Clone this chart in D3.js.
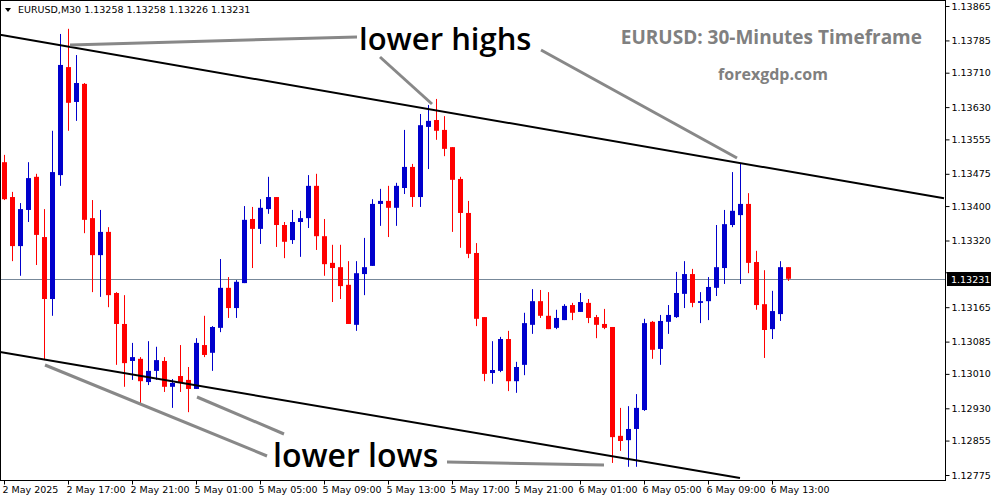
<!DOCTYPE html>
<html>
<head>
<meta charset="utf-8">
<script src="https://cdn.jsdelivr.net/npm/d3@7"></script>
<style>
  body { margin: 0; background: #fff; }
  svg { display: block; font-family: "DejaVu Sans", sans-serif; }
</style>
</head>
<body>
<div id="chart"></div>
<script>
// EURUSD M30 candles, [open, high, low, close]
const candles = [
  [1.13502, 1.13519, 1.13414, 1.13416], [1.13421, 1.13433, 1.13272, 1.13307],
  [1.13307, 1.13407, 1.13238, 1.13393], [1.13391, 1.13502, 1.13363, 1.13465],
  [1.13468, 1.13475, 1.13263, 1.13333], [1.13328, 1.13393, 1.13042, 1.13184],
  [1.13184, 1.13575, 1.13145, 1.13479], [1.13472, 1.13800, 1.13447, 1.13728],
  [1.13723, 1.13812, 1.13575, 1.13640], [1.13642, 1.13751, 1.13598, 1.13686],
  [1.13684, 1.13686, 1.13337, 1.13368], [1.13372, 1.13414, 1.13200, 1.13286],
  [1.13286, 1.13391, 1.13189, 1.13340], [1.13340, 1.13351, 1.13165, 1.13193],
  [1.13198, 1.13200, 1.13031, 1.13126], [1.13126, 1.13193, 1.12980, 1.13035],
  [1.13040, 1.13082, 1.12996, 1.13049], [1.13045, 1.13049, 1.12942, 1.12993],
  [1.12991, 1.13086, 1.12984, 1.13017], [1.13017, 1.13073, 1.12996, 1.13042],
  [1.13040, 1.13049, 1.12968, 1.12980], [1.12980, 1.12998, 1.12931, 1.12989],
  [1.13005, 1.13077, 1.12968, 1.12991], [1.12996, 1.13026, 1.12921, 1.12975],
  [1.12975, 1.13093, 1.12975, 1.13082], [1.13077, 1.13145, 1.13049, 1.13054],
  [1.13059, 1.13121, 1.13017, 1.13119], [1.13117, 1.13277, 1.13107, 1.13210],
  [1.13210, 1.13235, 1.13140, 1.13163], [1.13163, 1.13228, 1.13140, 1.13224],
  [1.13221, 1.13400, 1.13221, 1.13368], [1.13370, 1.13398, 1.13256, 1.13347],
  [1.13347, 1.13416, 1.13312, 1.13396], [1.13393, 1.13468, 1.13382, 1.13421],
  [1.13421, 1.13421, 1.13305, 1.13356], [1.13356, 1.13363, 1.13279, 1.13317],
  [1.13321, 1.13391, 1.13312, 1.13363], [1.13363, 1.13389, 1.13282, 1.13372],
  [1.13372, 1.13472, 1.13349, 1.13447], [1.13447, 1.13475, 1.13298, 1.13330],
  [1.13330, 1.13370, 1.13238, 1.13265], [1.13268, 1.13310, 1.13177, 1.13256],
  [1.13258, 1.13310, 1.13184, 1.13214], [1.13217, 1.13272, 1.13126, 1.13126],
  [1.13124, 1.13272, 1.13110, 1.13244], [1.13242, 1.13326, 1.13193, 1.13258],
  [1.13261, 1.13416, 1.13261, 1.13405], [1.13405, 1.13440, 1.13354, 1.13412],
  [1.13412, 1.13447, 1.13328, 1.13396], [1.13396, 1.13454, 1.13354, 1.13447],
  [1.13442, 1.13577, 1.13428, 1.13491], [1.13491, 1.13498, 1.13398, 1.13421],
  [1.13421, 1.13614, 1.13398, 1.13588], [1.13584, 1.13635, 1.13486, 1.13598],
  [1.13600, 1.13649, 1.13554, 1.13575], [1.13577, 1.13609, 1.13516, 1.13533],
  [1.13537, 1.13537, 1.13340, 1.13461], [1.13463, 1.13468, 1.13303, 1.13384],
  [1.13384, 1.13412, 1.13279, 1.13289], [1.13291, 1.13314, 1.13121, 1.13138],
  [1.13142, 1.13142, 1.12993, 1.13010], [1.13012, 1.13086, 1.12987, 1.13019],
  [1.13017, 1.13096, 1.13014, 1.13091], [1.13091, 1.13110, 1.12970, 1.12993],
  [1.12993, 1.13038, 1.12966, 1.13026], [1.13031, 1.13152, 1.13007, 1.13128],
  [1.13124, 1.13207, 1.13103, 1.13179], [1.13179, 1.13205, 1.13140, 1.13145],
  [1.13145, 1.13200, 1.13114, 1.13114], [1.13117, 1.13159, 1.13114, 1.13140],
  [1.13135, 1.13172, 1.13135, 1.13168], [1.13170, 1.13175, 1.13135, 1.13152],
  [1.13154, 1.13198, 1.13154, 1.13177], [1.13175, 1.13184, 1.13128, 1.13140],
  [1.13142, 1.13147, 1.13093, 1.13124], [1.13126, 1.13161, 1.13114, 1.13117],
  [1.13119, 1.13119, 1.12803, 1.12863], [1.12866, 1.12931, 1.12831, 1.12854],
  [1.12856, 1.12935, 1.12794, 1.12882], [1.12882, 1.12963, 1.12794, 1.12931],
  [1.12926, 1.13138, 1.12924, 1.13128], [1.13131, 1.13133, 1.13045, 1.13066],
  [1.13068, 1.13147, 1.13031, 1.13133], [1.13131, 1.13170, 1.13103, 1.13147],
  [1.13142, 1.13247, 1.13140, 1.13198], [1.13196, 1.13272, 1.13163, 1.13242],
  [1.13242, 1.13254, 1.13165, 1.13175], [1.13175, 1.13200, 1.13128, 1.13179],
  [1.13179, 1.13235, 1.13135, 1.13212], [1.13210, 1.13356, 1.13191, 1.13258],
  [1.13256, 1.13391, 1.13219, 1.13358], [1.13356, 1.13479, 1.13351, 1.13389],
  [1.13379, 1.13498, 1.13219, 1.13405], [1.13405, 1.13430, 1.13244, 1.13268],
  [1.13270, 1.13296, 1.13159, 1.13170], [1.13172, 1.13251, 1.13047, 1.13112],
  [1.13114, 1.13203, 1.13091, 1.13156], [1.13149, 1.13272, 1.13133, 1.13258],
  [1.13258, 1.13258, 1.13226, 1.13231]
];
// 1.13245 sits under the last-price tag, so only its tick mark is drawn
const priceTicks = [1.12775, 1.12855, 1.12930, 1.13010, 1.13085, 1.13165,
  1.13320, 1.13400, 1.13475, 1.13555, 1.13630, 1.13710, 1.13785, 1.13865];
const hiddenTick = 1.13245;
const timeLabels = ["2 May 2025", "2 May 17:00", "2 May 21:00", "5 May 01:00", "5 May 05:00",
  "5 May 09:00", "5 May 13:00", "5 May 17:00", "5 May 21:00", "6 May 01:00",
  "6 May 05:00", "6 May 09:00", "6 May 13:00"];
const timeLabelIndex = [0, 8, 16, 24, 32, 40, 48, 56, 64, 72, 80, 88, 96];
const lastPrice = 1.13231;
// channel lines as [index, price] pairs
const upperChannel = [[-0.5, 1.13798], [117.5, 1.13418]];
const lowerChannel = [[-0.5, 1.13061], [92, 1.12768]];

const width = 991, height = 501;
const plotRight = 945, plotBottom = 480;

const svg = d3.select("#chart").append("svg")
  .attr("width", width).attr("height", height);

const x = d3.scaleLinear().domain([0, 98]).range([4, 788]);
const y = d3.scaleLinear().domain([1.12775, 1.13865]).range([475, 6]);

// frame
svg.append("rect").attr("x", 0.5).attr("y", 0.5)
  .attr("width", plotRight).attr("height", plotBottom)
  .attr("fill", "none").attr("stroke", "#000");

// right price axis
const yAxis = svg.append("g")
  .attr("transform", `translate(${plotRight + 0.5},0)`)
  .call(d3.axisRight(y).tickValues(priceTicks).tickFormat(d3.format(".5f"))
    .tickSize(4).tickSizeOuter(0));
yAxis.select(".domain").remove();
yAxis.selectAll("text").attr("font-size", 9.5).attr("font-family", "DejaVu Sans").attr("x", 6).attr("fill", "#000");
svg.append("line")
  .attr("x1", plotRight).attr("x2", plotRight + 4)
  .attr("y1", y(hiddenTick)).attr("y2", y(hiddenTick)).attr("stroke", "#000");

// bottom time axis
const xAxis = svg.append("g")
  .attr("transform", `translate(0,${plotBottom + 0.5})`)
  .call(d3.axisBottom(x).tickValues(timeLabelIndex)
    .tickFormat((d, i) => timeLabels[i]).tickSize(4).tickSizeOuter(0));
xAxis.select(".domain").remove();
xAxis.selectAll("text").attr("font-size", 9.5).attr("font-family", "DejaVu Sans")
  .attr("text-anchor", "start").attr("x", -2).attr("y", 6).attr("fill", "#000");

// current price line
svg.append("line")
  .attr("x1", 1).attr("x2", plotRight)
  .attr("y1", Math.round(y(lastPrice)) + 0.5).attr("y2", Math.round(y(lastPrice)) + 0.5)
  .attr("stroke", "#778899").attr("stroke-width", 1);

// candles
const g = svg.append("g");
const cg = g.selectAll("g").data(candles).join("g");
const col = (d) => d[3] >= d[0] ? "#0000cc" : "#ff0000";
cg.append("line")
  .attr("x1", (d, i) => x(i) + 0.5).attr("x2", (d, i) => x(i) + 0.5)
  .attr("y1", (d) => y(d[1])).attr("y2", (d) => y(d[2]))
  .attr("stroke", col).attr("stroke-width", 1);
cg.append("rect")
  .attr("x", (d, i) => x(i) - 2)
  .attr("width", 5)
  .attr("y", (d) => y(Math.max(d[0], d[3])))
  .attr("height", (d) => Math.max(1.5, Math.abs(y(d[0]) - y(d[3]))))
  .attr("fill", col);

// channel
const line = d3.line().x((d) => x(d[0])).y((d) => y(d[1]));
svg.append("path").datum(upperChannel).attr("d", line)
  .attr("stroke", "#000").attr("stroke-width", 2).attr("fill", "none");
svg.append("path").datum(lowerChannel).attr("d", line)
  .attr("stroke", "#000").attr("stroke-width", 2).attr("fill", "none");

// annotation pointers
const pointers = [
  [[70, 45], [357, 37]], [[380, 57], [432, 104]], [[541, 50], [737, 158]],
  [[45, 365], [267, 456]], [[197, 397], [284, 434]], [[447, 462], [604, 465]]
];
svg.append("g").selectAll("line").data(pointers).join("line")
  .attr("x1", (d) => d[0][0]).attr("y1", (d) => d[0][1])
  .attr("x2", (d) => d[1][0]).attr("y2", (d) => d[1][1])
  .attr("stroke", "#888").attr("stroke-width", 3);

svg.append("text").attr("x", 359).attr("y", 50)
  .attr("font-family", "Open Sans, sans-serif").attr("font-weight", 600)
  .attr("font-size", 31).attr("fill", "#000").text("lower highs");
svg.append("text").attr("x", 273).attr("y", 467)
  .attr("font-family", "Open Sans, sans-serif").attr("font-weight", 600)
  .attr("font-size", 32).attr("fill", "#000").text("lower lows");

svg.append("text").attr("x", 922).attr("y", 44).attr("text-anchor", "end")
  .attr("font-family", "Open Sans, sans-serif").attr("font-weight", 700)
  .attr("font-size", 19).attr("fill", "#808080").text("EURUSD: 30-Minutes Timeframe");
svg.append("text").attr("x", 773).attr("y", 80).attr("text-anchor", "middle")
  .attr("font-family", "Open Sans, sans-serif").attr("font-weight", 700)
  .attr("font-size", 16).attr("fill", "#808080").text("forexgdp.com");

// header
svg.append("path").attr("d", "M5,8 L11,8 L8,12 Z").attr("fill", "#000");
svg.append("text").attr("x", 18).attr("y", 13)
  .attr("font-size", 9.5).attr("fill", "#000")
  .text("EURUSD,M30  1.13258 1.13258 1.13226 1.13231");

// last price tag
const ly = Math.round(y(lastPrice));
svg.append("rect").attr("x", plotRight + 2).attr("y", ly - 7)
  .attr("width", 44).attr("height", 14).attr("fill", "#000");
svg.append("text").attr("x", plotRight + 6).attr("y", ly + 4)
  .attr("font-size", 9.5).attr("fill", "#fff").text(d3.format(".5f")(lastPrice));
</script>
</body>
</html>
